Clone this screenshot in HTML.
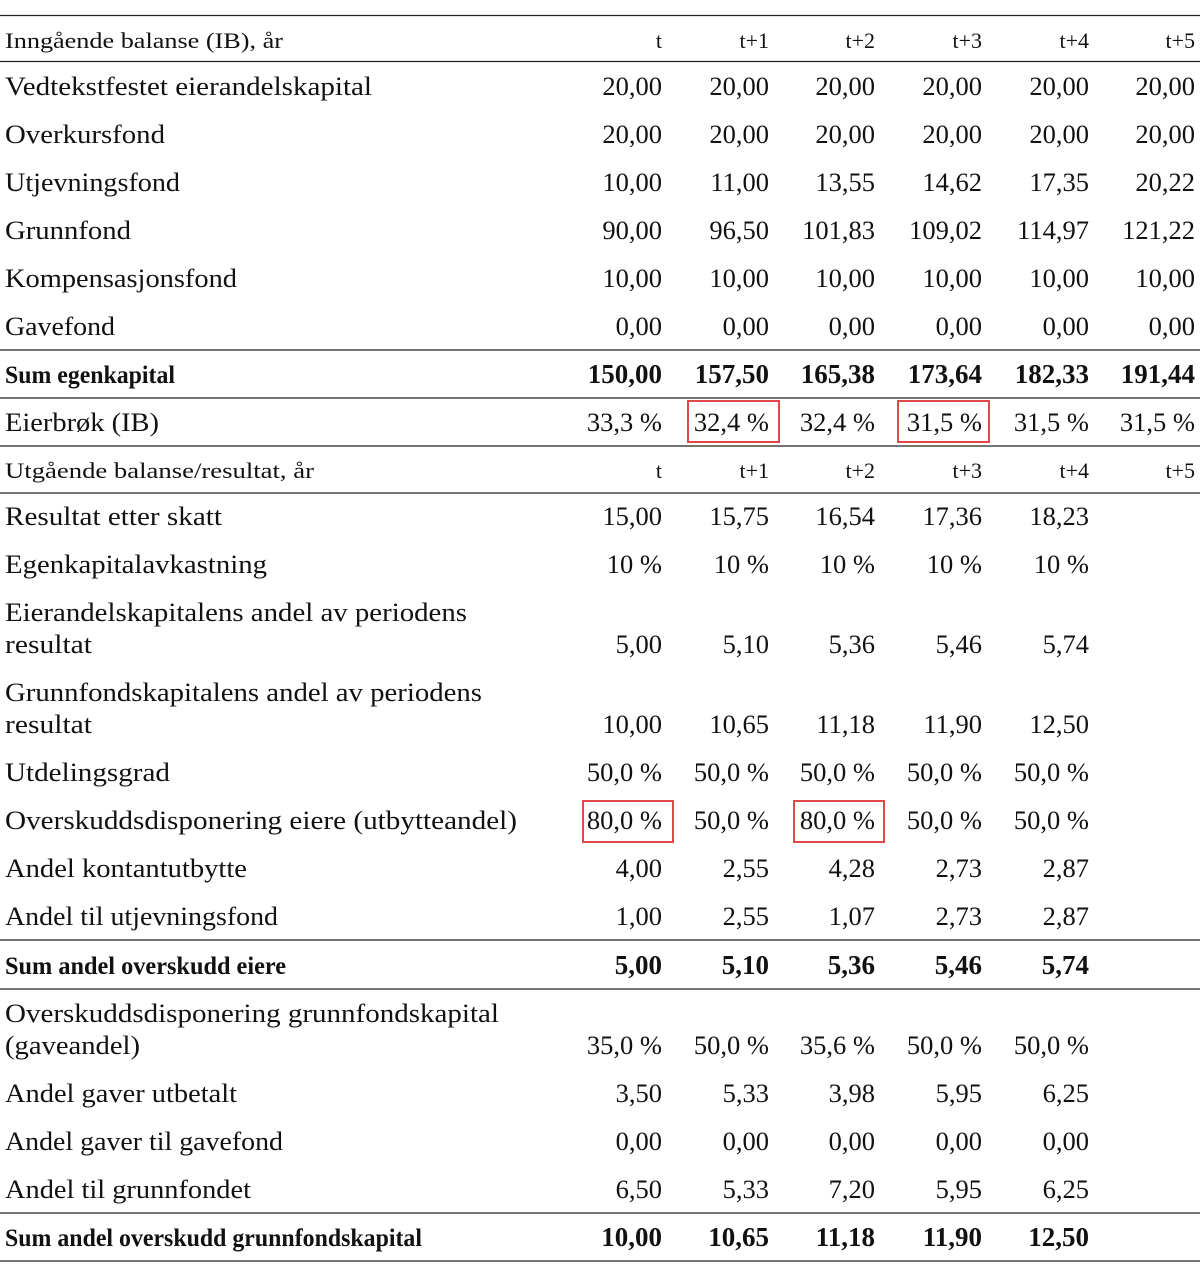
<!DOCTYPE html>
<html><head><meta charset="utf-8"><style>
html,body{margin:0;padding:0;background:#fff;}
svg{display:block;}
text{font-family:"Liberation Serif",serif;fill:#111;}
.n{font-size:26.5px;text-anchor:end;}
.n .b{font-size:27px;}
.h{font-size:22px;}
.hn{font-size:22px;text-anchor:end;}
.b{font-weight:bold;}
</style></head><body>
<svg width="1200" height="1277" viewBox="0 0 1200 1277" xmlns="http://www.w3.org/2000/svg">
<g stroke="#222" stroke-width="1.3">
<line x1="0" y1="15.5" x2="1200" y2="15.5"/>
<line x1="0" y1="61.5" x2="1200" y2="61.5"/>
<line x1="0" y1="350" x2="1200" y2="350"/>
<line x1="0" y1="398" x2="1200" y2="398"/>
<line x1="0" y1="446" x2="1200" y2="446"/>
<line x1="0" y1="493" x2="1200" y2="493"/>
<line x1="0" y1="940" x2="1200" y2="940"/>
<line x1="0" y1="989" x2="1200" y2="989"/>
<line x1="0" y1="1213" x2="1200" y2="1213"/>
<line x1="0" y1="1261" x2="1200" y2="1261"/>
</g>
<g fill="none" stroke="#e04848" stroke-width="2">
<rect x="688" y="401" width="91" height="41"/>
<rect x="898" y="401" width="91" height="41"/>
<rect x="583" y="801" width="90" height="41"/>
<rect x="794" y="801" width="90" height="41"/>
</g>
<text class="h" x="5" y="48" textLength="278" lengthAdjust="spacingAndGlyphs">Inngående balanse (IB), år</text>
<g class="hn"><text x="662" y="48">t</text><text x="769" y="48">t+1</text><text x="875" y="48">t+2</text><text x="982" y="48">t+3</text><text x="1089" y="48">t+4</text><text x="1195" y="48">t+5</text></g>
<g>
<text x="5" y="95" textLength="367" lengthAdjust="spacingAndGlyphs" style="font-size:26px">Vedtekstfestet eierandelskapital</text>
<text x="5" y="143" textLength="160" lengthAdjust="spacingAndGlyphs" style="font-size:26px">Overkursfond</text>
<text x="5" y="191" textLength="175" lengthAdjust="spacingAndGlyphs" style="font-size:26px">Utjevningsfond</text>
<text x="5" y="239" textLength="126" lengthAdjust="spacingAndGlyphs" style="font-size:26px">Grunnfond</text>
<text x="5" y="287" textLength="232" lengthAdjust="spacingAndGlyphs" style="font-size:26px">Kompensasjonsfond</text>
<text x="5" y="335" textLength="110" lengthAdjust="spacingAndGlyphs" style="font-size:26px">Gavefond</text>
<text x="5" y="383" class="b" textLength="170" lengthAdjust="spacingAndGlyphs" style="font-size:25px">Sum egenkapital</text>
<text x="5" y="431" textLength="154" lengthAdjust="spacingAndGlyphs" style="font-size:26px">Eierbrøk (IB)</text>
</g>
<g class="n">
<text x="662" y="95">20,00</text><text x="769" y="95">20,00</text><text x="875" y="95">20,00</text><text x="982" y="95">20,00</text><text x="1089" y="95">20,00</text><text x="1195" y="95">20,00</text>
<text x="662" y="143">20,00</text><text x="769" y="143">20,00</text><text x="875" y="143">20,00</text><text x="982" y="143">20,00</text><text x="1089" y="143">20,00</text><text x="1195" y="143">20,00</text>
<text x="662" y="191">10,00</text><text x="769" y="191">11,00</text><text x="875" y="191">13,55</text><text x="982" y="191">14,62</text><text x="1089" y="191">17,35</text><text x="1195" y="191">20,22</text>
<text x="662" y="239">90,00</text><text x="769" y="239">96,50</text><text x="875" y="239">101,83</text><text x="982" y="239">109,02</text><text x="1089" y="239">114,97</text><text x="1195" y="239">121,22</text>
<text x="662" y="287">10,00</text><text x="769" y="287">10,00</text><text x="875" y="287">10,00</text><text x="982" y="287">10,00</text><text x="1089" y="287">10,00</text><text x="1195" y="287">10,00</text>
<text x="662" y="335">0,00</text><text x="769" y="335">0,00</text><text x="875" y="335">0,00</text><text x="982" y="335">0,00</text><text x="1089" y="335">0,00</text><text x="1195" y="335">0,00</text>
<g class="b"><text x="662" y="383">150,00</text><text x="769" y="383">157,50</text><text x="875" y="383">165,38</text><text x="982" y="383">173,64</text><text x="1089" y="383">182,33</text><text x="1195" y="383">191,44</text></g>
<text x="662" y="431">33,3 %</text><text x="769" y="431">32,4 %</text><text x="875" y="431">32,4 %</text><text x="982" y="431">31,5 %</text><text x="1089" y="431">31,5 %</text><text x="1195" y="431">31,5 %</text>
</g>
<text class="h" x="5" y="478" textLength="309" lengthAdjust="spacingAndGlyphs">Utgående balanse/resultat, år</text>
<g class="hn"><text x="662" y="478">t</text><text x="769" y="478">t+1</text><text x="875" y="478">t+2</text><text x="982" y="478">t+3</text><text x="1089" y="478">t+4</text><text x="1195" y="478">t+5</text></g>
<g>
<text x="5" y="525" textLength="217" lengthAdjust="spacingAndGlyphs" style="font-size:26px">Resultat etter skatt</text>
<text x="5" y="573" textLength="262" lengthAdjust="spacingAndGlyphs" style="font-size:26px">Egenkapitalavkastning</text>
<text x="5" y="621" textLength="462" lengthAdjust="spacingAndGlyphs" style="font-size:26px">Eierandelskapitalens andel av periodens</text>
<text x="5" y="653" textLength="87" lengthAdjust="spacingAndGlyphs" style="font-size:26px">resultat</text>
<text x="5" y="701" textLength="477" lengthAdjust="spacingAndGlyphs" style="font-size:26px">Grunnfondskapitalens andel av periodens</text>
<text x="5" y="733" textLength="87" lengthAdjust="spacingAndGlyphs" style="font-size:26px">resultat</text>
<text x="5" y="781" textLength="165" lengthAdjust="spacingAndGlyphs" style="font-size:26px">Utdelingsgrad</text>
<text x="5" y="829" textLength="512" lengthAdjust="spacingAndGlyphs" style="font-size:26px">Overskuddsdisponering eiere (utbytteandel)</text>
<text x="5" y="877" textLength="242" lengthAdjust="spacingAndGlyphs" style="font-size:26px">Andel kontantutbytte</text>
<text x="5" y="925" textLength="273" lengthAdjust="spacingAndGlyphs" style="font-size:26px">Andel til utjevningsfond</text>
<text x="5" y="974" class="b" textLength="281" lengthAdjust="spacingAndGlyphs" style="font-size:25px">Sum andel overskudd eiere</text>
<text x="5" y="1022" textLength="494" lengthAdjust="spacingAndGlyphs" style="font-size:26px">Overskuddsdisponering grunnfondskapital</text>
<text x="5" y="1054" textLength="135" lengthAdjust="spacingAndGlyphs" style="font-size:26px">(gaveandel)</text>
<text x="5" y="1102" textLength="232" lengthAdjust="spacingAndGlyphs" style="font-size:26px">Andel gaver utbetalt</text>
<text x="5" y="1150" textLength="278" lengthAdjust="spacingAndGlyphs" style="font-size:26px">Andel gaver til gavefond</text>
<text x="5" y="1198" textLength="246" lengthAdjust="spacingAndGlyphs" style="font-size:26px">Andel til grunnfondet</text>
<text x="5" y="1246" class="b" textLength="417" lengthAdjust="spacingAndGlyphs" style="font-size:25px">Sum andel overskudd grunnfondskapital</text>
</g>
<g class="n">
<text x="662" y="525">15,00</text><text x="769" y="525">15,75</text><text x="875" y="525">16,54</text><text x="982" y="525">17,36</text><text x="1089" y="525">18,23</text>
<text x="662" y="573">10 %</text><text x="769" y="573">10 %</text><text x="875" y="573">10 %</text><text x="982" y="573">10 %</text><text x="1089" y="573">10 %</text>
<text x="662" y="653">5,00</text><text x="769" y="653">5,10</text><text x="875" y="653">5,36</text><text x="982" y="653">5,46</text><text x="1089" y="653">5,74</text>
<text x="662" y="733">10,00</text><text x="769" y="733">10,65</text><text x="875" y="733">11,18</text><text x="982" y="733">11,90</text><text x="1089" y="733">12,50</text>
<text x="662" y="781">50,0 %</text><text x="769" y="781">50,0 %</text><text x="875" y="781">50,0 %</text><text x="982" y="781">50,0 %</text><text x="1089" y="781">50,0 %</text>
<text x="662" y="829">80,0 %</text><text x="769" y="829">50,0 %</text><text x="875" y="829">80,0 %</text><text x="982" y="829">50,0 %</text><text x="1089" y="829">50,0 %</text>
<text x="662" y="877">4,00</text><text x="769" y="877">2,55</text><text x="875" y="877">4,28</text><text x="982" y="877">2,73</text><text x="1089" y="877">2,87</text>
<text x="662" y="925">1,00</text><text x="769" y="925">2,55</text><text x="875" y="925">1,07</text><text x="982" y="925">2,73</text><text x="1089" y="925">2,87</text>
<g class="b"><text x="662" y="974">5,00</text><text x="769" y="974">5,10</text><text x="875" y="974">5,36</text><text x="982" y="974">5,46</text><text x="1089" y="974">5,74</text></g>
<text x="662" y="1054">35,0 %</text><text x="769" y="1054">50,0 %</text><text x="875" y="1054">35,6 %</text><text x="982" y="1054">50,0 %</text><text x="1089" y="1054">50,0 %</text>
<text x="662" y="1102">3,50</text><text x="769" y="1102">5,33</text><text x="875" y="1102">3,98</text><text x="982" y="1102">5,95</text><text x="1089" y="1102">6,25</text>
<text x="662" y="1150">0,00</text><text x="769" y="1150">0,00</text><text x="875" y="1150">0,00</text><text x="982" y="1150">0,00</text><text x="1089" y="1150">0,00</text>
<text x="662" y="1198">6,50</text><text x="769" y="1198">5,33</text><text x="875" y="1198">7,20</text><text x="982" y="1198">5,95</text><text x="1089" y="1198">6,25</text>
<g class="b"><text x="662" y="1246">10,00</text><text x="769" y="1246">10,65</text><text x="875" y="1246">11,18</text><text x="982" y="1246">11,90</text><text x="1089" y="1246">12,50</text></g>
</g>
</svg>
</body></html>
